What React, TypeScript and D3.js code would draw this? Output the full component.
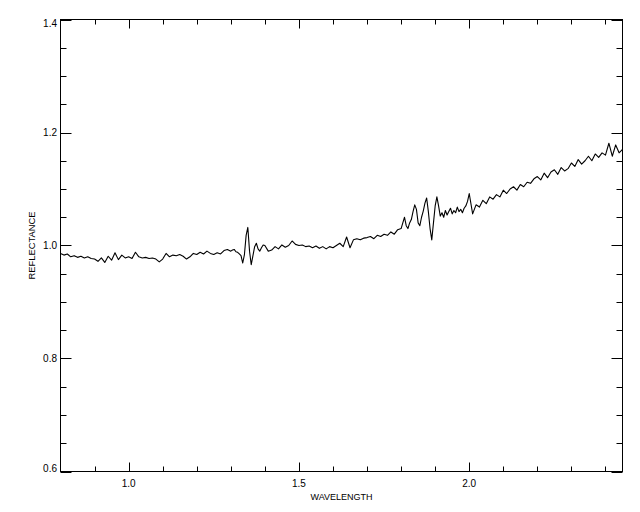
import React from "react";
import * as d3 from "d3";

const wavelengths: number[] = [
  0.80, 0.81, 0.82, 0.83, 0.84, 0.85, 0.86, 0.87, 0.88, 0.89,
  0.90, 0.91, 0.92, 0.93, 0.94, 0.95, 0.96, 0.97, 0.98, 0.99,
  1.00, 1.01, 1.02, 1.03, 1.04, 1.05, 1.06, 1.07, 1.08, 1.09,
  1.10, 1.11, 1.12, 1.13, 1.14, 1.15, 1.16, 1.17, 1.18, 1.19,
  1.20, 1.21, 1.22, 1.23, 1.24, 1.25, 1.26, 1.27, 1.28, 1.29,
  1.300, 1.305, 1.310, 1.315, 1.320, 1.325, 1.330, 1.335, 1.340, 1.345,
  1.350, 1.355, 1.360, 1.365, 1.370, 1.375, 1.380, 1.385, 1.390, 1.395,
  1.40, 1.41, 1.42, 1.43, 1.44, 1.45, 1.46, 1.47, 1.48, 1.49,
  1.50, 1.51, 1.52, 1.53, 1.54, 1.55, 1.56, 1.57, 1.58, 1.59,
  1.60, 1.61, 1.62, 1.63, 1.64, 1.65, 1.66, 1.67, 1.68, 1.69,
  1.70, 1.71, 1.72, 1.73, 1.74, 1.75, 1.76, 1.77, 1.78, 1.79,
  1.800, 1.805, 1.810, 1.815, 1.820, 1.825, 1.830, 1.835, 1.840, 1.845,
  1.850, 1.855, 1.860, 1.865, 1.870, 1.875, 1.880, 1.885, 1.890, 1.895,
  1.900, 1.905, 1.910, 1.915, 1.920, 1.925, 1.930, 1.935, 1.940, 1.945,
  1.950, 1.955, 1.960, 1.965, 1.970, 1.975, 1.980, 1.985, 1.990, 1.995,
  2.00, 2.01, 2.02, 2.03, 2.04, 2.05, 2.06, 2.07, 2.08, 2.09,
  2.10, 2.11, 2.12, 2.13, 2.14, 2.15, 2.16, 2.17, 2.18, 2.19,
  2.20, 2.21, 2.22, 2.23, 2.24, 2.25, 2.26, 2.27, 2.28, 2.29,
  2.30, 2.31, 2.32, 2.33, 2.34, 2.35, 2.36, 2.37, 2.38, 2.39,
  2.40, 2.41, 2.42, 2.43, 2.44, 2.45,
];

const reflectance: number[] = [
  0.986, 0.983, 0.985, 0.980, 0.982, 0.979, 0.981, 0.978, 0.980, 0.977,
  0.976, 0.972, 0.978, 0.970, 0.981, 0.974, 0.987, 0.975, 0.983, 0.978,
  0.980, 0.977, 0.988, 0.980, 0.978, 0.979, 0.977, 0.978, 0.976, 0.971,
  0.976, 0.986, 0.980, 0.983, 0.982, 0.984, 0.981, 0.976, 0.980, 0.986,
  0.984, 0.988, 0.985, 0.990, 0.986, 0.984, 0.987, 0.985, 0.991, 0.993,
  0.990, 0.992, 0.993, 0.989, 0.988, 0.985, 0.982, 0.969, 0.984, 1.018,
  1.032, 0.990, 0.966, 0.982, 0.998, 1.004, 0.994, 0.990, 0.996, 1.001,
  1.000, 0.990, 0.992, 0.998, 0.994, 1.001, 0.997, 1.000, 1.008, 1.002,
  1.000, 1.001, 0.998, 0.999, 0.996, 0.999, 0.995, 0.998, 0.994, 0.998,
  0.996, 1.000, 1.004, 0.998, 1.015, 0.996, 1.010, 1.012, 1.010, 1.013,
  1.014, 1.016, 1.012, 1.018, 1.016, 1.020, 1.018, 1.024, 1.020, 1.028,
  1.030, 1.040, 1.050, 1.035, 1.030, 1.040, 1.046, 1.060, 1.072, 1.064,
  1.040, 1.035, 1.050, 1.061, 1.075, 1.084, 1.060, 1.030, 1.010, 1.040,
  1.070, 1.086, 1.070, 1.052, 1.058, 1.050, 1.062, 1.054, 1.060, 1.066,
  1.056, 1.062, 1.058, 1.068, 1.060, 1.064, 1.058, 1.066, 1.070, 1.078,
  1.092, 1.056, 1.072, 1.068, 1.080, 1.074, 1.086, 1.082, 1.090, 1.086,
  1.098, 1.092, 1.100, 1.104, 1.098, 1.108, 1.104, 1.112, 1.110, 1.118,
  1.122, 1.116, 1.128, 1.120, 1.130, 1.134, 1.126, 1.138, 1.132, 1.136,
  1.146, 1.140, 1.152, 1.144, 1.150, 1.158, 1.150, 1.162, 1.156, 1.164,
  1.160, 1.181, 1.158, 1.178, 1.164, 1.170,
];

const xMajorTicks: number[] = [1.0, 1.5, 2.0];
const xMinorTicks: number[] = [0.9, 1.1, 1.2, 1.3, 1.4, 1.6, 1.7, 1.8, 1.9, 2.1, 2.2, 2.3, 2.4];
const yMajorTicks: number[] = [0.6, 0.8, 1.0, 1.2, 1.4];
const yMinorTicks: number[] = [0.65, 0.7, 0.75, 0.85, 0.9, 0.95, 1.05, 1.1, 1.15, 1.25, 1.3, 1.35];

const X_TITLE = "WAVELENGTH";
const Y_TITLE = "REFLECTANCE";

export default function App() {
  const L = 60.5, R = 622.5, T = 19.5, B = 471.5;
  const x = d3.scaleLinear().domain([0.8, 2.45]).range([L, R]);
  const y = d3.scaleLinear().domain([0.6, 1.4]).range([B, T]);
  const data = wavelengths.map((w, i) => [w, reflectance[i]] as [number, number]);
  const line = d3.line<[number, number]>().x(d => x(d[0])).y(d => y(d[1]));
  const font = "'Liberation Sans', Arial, sans-serif";
  const xMajLen = 9, xMinLen = 5, yMajLen = 11, yMinLen = 6;

  const fmt = d3.format(".1f");

  return (
    <svg width={640} height={512} style={{ position: "absolute", left: 0, top: 0, background: "#fff" }}>
      <rect x={0} y={0} width={640} height={512} fill="#fff" />
      <g stroke="#000" strokeWidth={1} fill="none">
        <rect x={L} y={T} width={R - L} height={B - T} />
        {xMajorTicks.map(t => (
          <g key={"xM" + t}>
            <line x1={Math.round(x(t)) + 0.5} x2={Math.round(x(t)) + 0.5} y1={B} y2={B - xMajLen} />
            <line x1={Math.round(x(t)) + 0.5} x2={Math.round(x(t)) + 0.5} y1={T} y2={T + xMajLen} />
          </g>
        ))}
        {xMinorTicks.map(t => (
          <g key={"xm" + t}>
            <line x1={Math.round(x(t)) + 0.5} x2={Math.round(x(t)) + 0.5} y1={B} y2={B - xMinLen} />
            <line x1={Math.round(x(t)) + 0.5} x2={Math.round(x(t)) + 0.5} y1={T} y2={T + xMinLen} />
          </g>
        ))}
        {yMajorTicks.map(t => (
          <g key={"yM" + t}>
            <line x1={L} x2={L + yMajLen} y1={Math.round(y(t)) + 0.5} y2={Math.round(y(t)) + 0.5} />
            <line x1={R} x2={R - yMajLen} y1={Math.round(y(t)) + 0.5} y2={Math.round(y(t)) + 0.5} />
          </g>
        ))}
        {yMinorTicks.map(t => (
          <g key={"ym" + t}>
            <line x1={L} x2={L + yMinLen} y1={Math.round(y(t)) + 0.5} y2={Math.round(y(t)) + 0.5} />
            <line x1={R} x2={R - yMinLen} y1={Math.round(y(t)) + 0.5} y2={Math.round(y(t)) + 0.5} />
          </g>
        ))}
        <path d={line(data) || ""} strokeWidth={1.1} strokeLinejoin="round" />
      </g>
      <g fontFamily={font} fontSize={10} fill="#000">
        {xMajorTicks.map(t => (
          <text key={"xl" + t} x={x(t)} y={487} textAnchor="middle">{fmt(t)}</text>
        ))}
        {yMajorTicks.map((t, i) => {
          let cy = y(t);
          if (i === yMajorTicks.length - 1) cy += 4;
          if (i === 0) cy -= 3;
          return (
            <text key={"yl" + t} x={57} y={cy} dy="0.35em" textAnchor="end">{fmt(t)}</text>
          );
        })}
        <text x={(L + R) / 2} y={499.5} textAnchor="middle" fontSize={9.5} textLength={62} lengthAdjust="spacingAndGlyphs">{X_TITLE}</text>
        <text transform={`translate(34.5, ${(T + B) / 2}) rotate(-90)`} textAnchor="middle" fontSize={9.5} textLength={68} lengthAdjust="spacingAndGlyphs">{Y_TITLE}</text>
      </g>
    </svg>
  );
}
